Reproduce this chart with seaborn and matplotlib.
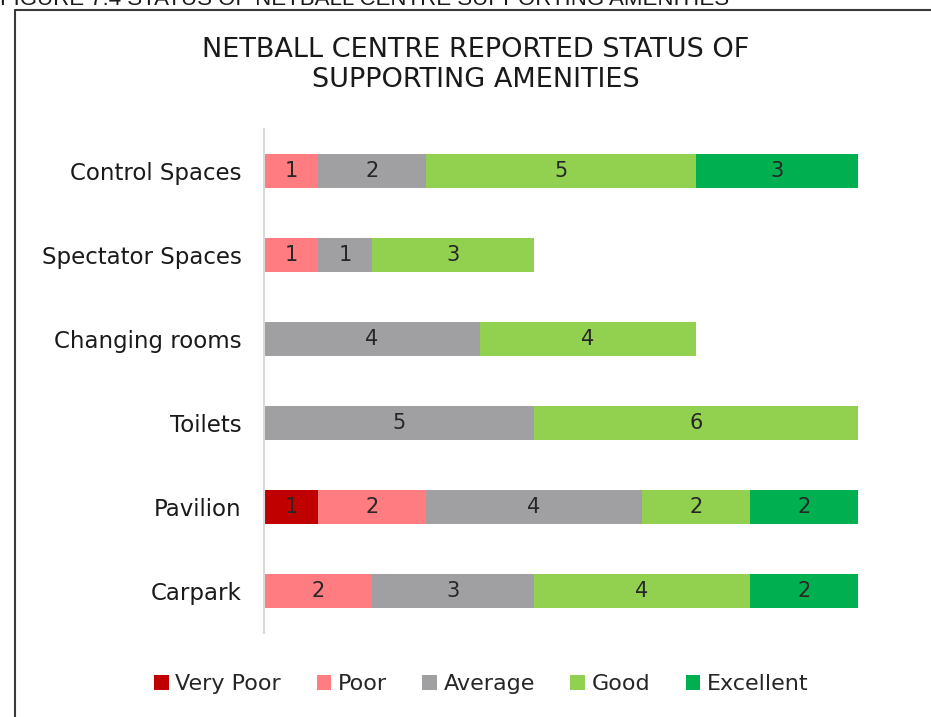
import numpy as np
import pandas as pd
import matplotlib.pyplot as plt
import seaborn as sns
from matplotlib.lines import Line2D

# Data
amenities = ["Control Spaces", "Spectator Spaces", "Changing rooms", "Toilets", "Pavilion", "Carpark"]
levels = ["Very Poor", "Poor", "Average", "Good", "Excellent"]
very_poor = [0, 0, 0, 0, 1, 0]
poor = [1, 1, 0, 0, 2, 2]
average = [2, 1, 4, 5, 4, 3]
good = [5, 3, 4, 6, 2, 4]
excellent = [3, 0, 0, 0, 2, 2]
colors = ["#C00000", "#FF7C80", "#A0A0A2", "#92D050", "#00B050"]

counts = pd.DataFrame(
    {"Very Poor": very_poor, "Poor": poor, "Average": average, "Good": good, "Excellent": excellent},
    index=amenities,
)

sns.set_style("white")
plt.rcParams["font.family"] = ["DejaVu Sans"]

fig = plt.figure(figsize=(9.31, 7.17), dpi=100)
ax = fig.add_axes([0.2836, 0.1172, 0.696, 0.703])

# stacked bars: each level starts where the previous ones end
left = np.zeros(len(amenities))
for level, col in zip(levels, colors):
    vals = counts[level].values
    sns.barplot(
        x=vals, y=amenities, orient="y", color=col, saturation=1,
        width=0.4, left=left, linewidth=0, label=level, ax=ax,
    )
    cont = ax.containers[-1]
    ax.bar_label(
        cont, labels=[str(v) if v > 0 else "" for v in vals],
        label_type="center", fontsize=15, color="#262626",
    )
    left = left + vals

if ax.get_legend() is not None:
    ax.get_legend().remove()

ax.set_xlim(0, 12)
ax.set_ylim(5.5, -0.5)
ax.set_xlabel("")
ax.set_ylabel("")
ax.set_xticks([])
ax.tick_params(axis="y", length=0, pad=16, labelsize=16.5, labelcolor="#1a1a1a")
for s in ["top", "right", "bottom"]:
    ax.spines[s].set_visible(False)
ax.spines["left"].set_color("#D9D9D9")
ax.spines["left"].set_linewidth(1.5)

fig.text(0.511, 0.909, "NETBALL CENTRE REPORTED STATUS OF\nSUPPORTING AMENITIES",
         ha="center", va="center", fontsize=19.5, color="#1a1a1a", linespacing=1.2)

handles, labels = ax.get_legend_handles_labels()
fig.legend(handles, labels, loc="center", bbox_to_anchor=(0.517, 0.046), ncol=5,
           frameon=False, fontsize=16, handlelength=0.65, handleheight=0.65,
           handletextpad=0.3, columnspacing=1.6)

# frame and cut-off caption from the report page
fig.add_artist(Line2D([0.0166, 0.0166], [0.0, 0.986], color="#3a3a3a", lw=1.5))
fig.add_artist(Line2D([0.0166, 1.0], [0.986, 0.986], color="#3a3a3a", lw=1.5))
fig.text(0.0, 1 - 5 / 717, "FIGURE 7.4 STATUS OF NETBALL CENTRE SUPPORTING AMENITIES",
         ha="left", va="baseline", fontsize=16, color="#1a1a1a",
         family=["Liberation Sans Narrow", "Liberation Sans"])

fig.savefig("out.png", dpi=100)
